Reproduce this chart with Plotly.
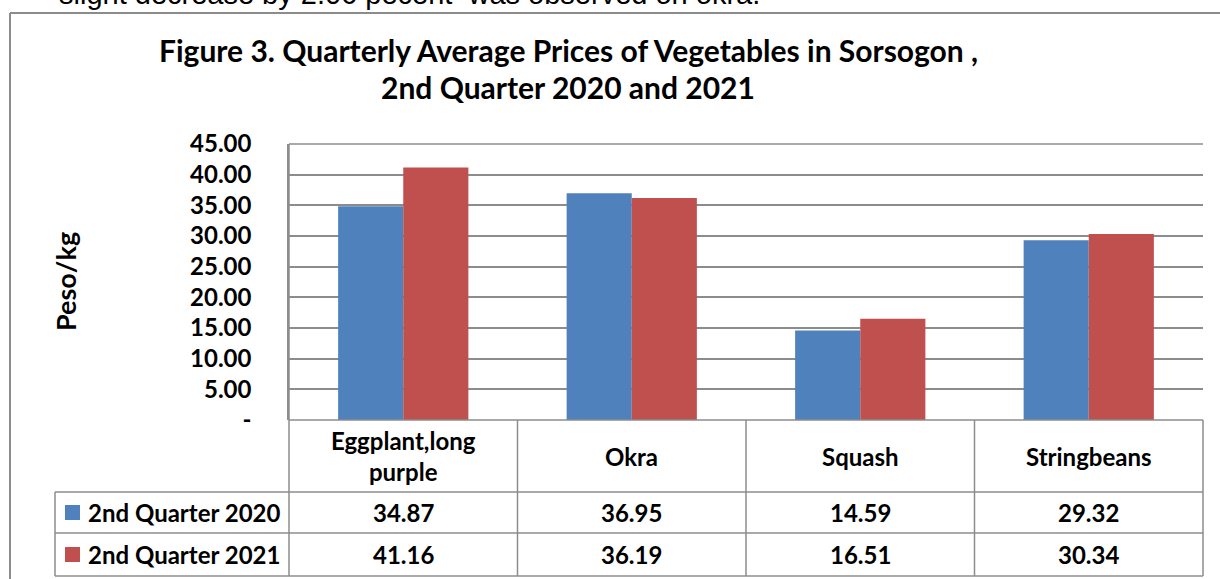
import plotly.graph_objects as go

categories = ["Eggplant,long purple", "Okra", "Squash", "Stringbeans"]
category_labels = ["Eggplant,long<br>purple", "Okra", "Squash", "Stringbeans"]
series_names = ["2nd Quarter 2020", "2nd Quarter 2021"]
q2_2020 = [34.87, 36.95, 14.59, 29.32]
q2_2021 = [41.16, 36.19, 16.51, 30.34]
y_ticks = [0, 5, 10, 15, 20, 25, 30, 35, 40, 45]

W, H = 1220, 579
BLUE = "#4F81BD"
RED = "#C0504D"
GRID = "#8C8C8C"
FONT = "Lato"

# pixel layout
px_left, px_right = 289, 1203
px_top, px_bottom = 144, 420
row_y = [420, 492, 533, 576]
leg_left = 55

def fx(px):
    return px / W

def fy(py):
    return 1 - py / H

fig = go.Figure()
for name, vals, col in [(series_names[0], q2_2020, BLUE), (series_names[1], q2_2021, RED)]:
    fig.add_trace(go.Bar(x=categories, y=vals, name=name, marker=dict(color=col, line=dict(width=0)),
                         showlegend=False))

fig.update_layout(
    width=W, height=H, margin=dict(l=0, r=0, t=0, b=0, autoexpand=False),
    paper_bgcolor="white", plot_bgcolor="white",
    barmode="group", bargap=0.43, bargroupgap=0,
    font=dict(family=FONT, color="black"),
    xaxis=dict(domain=[fx(px_left), fx(px_right)], showticklabels=False, showgrid=False,
               zeroline=False, showline=False, automargin=False),
    yaxis=dict(domain=[fy(px_bottom), fy(px_top)], range=[0, 45],
               tickvals=y_ticks, ticktext=["-" if v == 0 else f"{v:.2f}" for v in y_ticks],
               tickfont=dict(size=24, family=FONT, color="black", weight="bold"),
               showgrid=True, gridcolor=GRID, gridwidth=1.5, zeroline=False,
               showline=True, linecolor=GRID, linewidth=1.5,
               ticklabelstandoff=31, automargin=False),
)

shapes = []
def line(x0, y0, x1, y1, w=1.5, c=GRID):
    shapes.append(dict(type="line", xref="paper", yref="paper", x0=fx(x0), y0=fy(y0), x1=fx(x1), y1=fy(y1),
                       line=dict(color=c, width=w)))

# outer border
line(10, 13, 1222, 13, 2)
line(10, 13, 10, 581, 2)
# top gridline
line(px_left, px_top, px_right, px_top)
# table
col_w = (px_right - px_left) / len(categories)
line(px_left, row_y[0], px_right, row_y[0])
for ry in row_y[1:]:
    line(leg_left, ry, px_right, ry)
line(leg_left, row_y[1], leg_left, row_y[3])
line(px_left, px_top, px_left, row_y[3])
for i in range(1, len(categories) + 1):
    line(px_left + i * col_w, row_y[0], px_left + i * col_w, row_y[3])

# legend swatches
for i, col in enumerate([BLUE, RED]):
    cy = (row_y[i + 1] + row_y[i + 2]) / 2
    shapes.append(dict(type="rect", xref="paper", yref="paper", x0=fx(65), x1=fx(80), y0=fy(cy - 7.5), y1=fy(cy + 7.5),
                       fillcolor=col, line=dict(width=0)))

fig.update_layout(shapes=shapes)

ann = []
def text(t, x, y, size=24, xanchor="center", family=FONT, bold=True, angle=0):
    ann.append(dict(text=f"<b>{t}</b>" if bold else t, x=fx(x), y=fy(y), xref="paper", yref="paper",
                    xanchor=xanchor, yanchor="middle", showarrow=False, textangle=angle,
                    font=dict(size=size, family=family, color="black")))

# title
text("Figure 3. Quarterly Average Prices of Vegetables in Sorsogon ,", 568, 50, 30)
text("2nd Quarter 2020 and 2021", 568, 87, 30)
# y-axis title
text("Peso/kg", 65, 282, 27, angle=-90)
# cut-off paragraph text at the top
text("slight decrease by 2.06 pecent  was observed on okra.", 57, -6, 29, xanchor="left",
     family="Liberation Sans", bold=False)

for i, lab in enumerate(category_labels):
    cx = px_left + (i + 0.5) * col_w
    text(lab, cx, (row_y[0] + row_y[1]) / 2, 24)
    text(f"{q2_2020[i]:.2f}", cx, (row_y[1] + row_y[2]) / 2, 24)
    text(f"{q2_2021[i]:.2f}", cx, (row_y[2] + row_y[3]) / 2, 24)
for i, nm in enumerate(series_names):
    text(nm, 86, (row_y[i + 1] + row_y[i + 2]) / 2, 24, xanchor="left")

fig.update_layout(annotations=ann)
fig.write_html("out.html", config={"displayModeBar": False},
               post_script="document.body.style.margin='0';")
